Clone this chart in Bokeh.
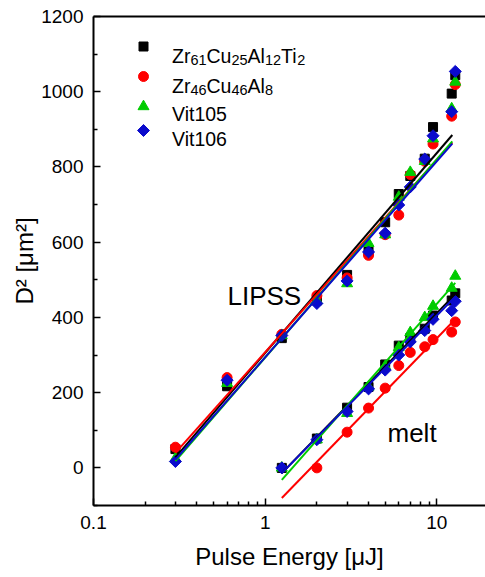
import numpy as np
from bokeh.plotting import figure
from bokeh.models import Range1d, FixedTicker, LogAxis, Label, Title, CustomJSTickFormatter
from bokeh.embed import file_html
from bokeh.resources import INLINE

# ---------------- data ----------------
energy = [0.3, 0.6, 1.25, 2, 3, 4, 5, 6, 7, 8.5, 9.5, 12.2, 12.8]
lipss_zr61 = [50, 217, 345, 445, 513, 575, 653, 728, 776, 822, 906, 995, 1044]
lipss_zr46 = [55, 240, 355, 458, 505, 565, 620, 672, 780, 815, 861, 935, 1019]
lipss_vit105 = [25, 225, 352, 445, 490, 597, 620, 720, 786, 815, 875, 955, 1026]
lipss_vit106 = [17, 233, 352, 437, 497, 574, 624, 699, 747, 821, 883, 947, 1054]

melt_energy = [1.25, 2, 3, 4, 5, 6, 7, 8.5, 9.5, 12.2, 12.8]
melt_zr61 = [0, 78, 160, 215, 275, 325, 345, 370, 405, 445, 464]
melt_vit105 = [0, 75, 145, 215, 270, 320, 360, 400, 430, 478, 510]
melt_vit106 = [0, 75, 150, 210, 260, 300, 335, 365, 395, 418, 443]
melt_energy_zr46 = [2, 3, 4, 5, 6, 7, 8.5, 9.5, 12.2, 12.8]
melt_zr46 = [0, 95, 159, 212, 272, 307, 322, 341, 361, 388]

# fitted lines (end points)
lipss_fit_x = [0.3, 12.3]
lipss_fit_zr61 = [28, 885]
lipss_fit_zr46 = [40, 865]
lipss_fit_vit105 = [18, 868]
lipss_fit_vit106 = [22, 862]
melt_fit_x = [1.25, 12.8]
melt_fit_zr61 = [-14, 462]
melt_fit_zr46 = [-80, 395]
melt_fit_vit105 = [-32, 492]
melt_fit_vit106 = [-14, 455]

x_ticks = [0.1, 1, 10]
x_minor = [0.2, 0.3, 0.4, 0.5, 0.6, 0.7, 0.8, 0.9, 2, 3, 4, 5, 6, 7, 8, 9]
y_ticks = [0, 200, 400, 600, 800, 1000, 1200]
y_minor = [-100, 100, 300, 500, 700, 900, 1100]

legend_labels = [
    [("Zr", 0), ("61", 1), ("Cu", 0), ("25", 1), ("Al", 0), ("12", 1), ("Ti", 0), ("2", 1)],
    [("Zr", 0), ("46", 1), ("Cu", 0), ("46", 1), ("Al", 0), ("8", 1)],
    [("Vit105", 0)],
    [("Vit106", 0)],
]

# ---------------- layout ----------------
W, H = 485, 577
FL, FT, FB = 93, 16, 72
XMIN, XMAX = 0.1, 19.2
YMIN, YMAX = -100, 1200
FW = W - FL
FH = H - FT - FB
FONT = "Liberation Sans"

def px2x(px):
    return XMIN * 10 ** ((px - FL) / FW * np.log10(XMAX / XMIN))

def py2y(py):
    return YMAX - (py - FT) * (YMAX - YMIN) / FH

p = figure(width=W, height=H, x_axis_type="log",
           x_range=Range1d(XMIN, XMAX), y_range=Range1d(YMIN, YMAX),
           output_backend="svg", toolbar_location=None,
           min_border_left=FL, min_border_right=0, min_border_top=FT,
           min_border_bottom=FB)
p.outline_line_color = None
p.xgrid.visible = False
p.ygrid.visible = False
p.background_fill_color = "white"
p.border_fill_color = "white"

for ax in (p.xaxis[0], p.yaxis[0]):
    ax.axis_line_width = 2
    ax.axis_line_color = "black"
    ax.major_tick_in = 7
    ax.major_tick_out = 0
    ax.minor_tick_in = 4
    ax.minor_tick_out = 0
    ax.major_tick_line_width = 1.5
    ax.minor_tick_line_width = 1.5
    ax.major_tick_line_color = "black"
    ax.minor_tick_line_color = "black"
    ax.major_label_text_font = FONT
    ax.major_label_text_font_size = "19px"
    ax.major_label_text_color = "black"
    ax.major_label_standoff = 10

p.xaxis.ticker = FixedTicker(ticks=x_ticks, minor_ticks=x_minor)
p.xaxis.formatter = CustomJSTickFormatter(code="return tick.toString();")
p.yaxis.ticker = FixedTicker(ticks=y_ticks, minor_ticks=y_minor)
p.xaxis.axis_label = "Pulse Energy [μJ]"
p.xaxis.axis_label_text_font = FONT
p.xaxis.axis_label_text_font_size = "24px"
p.xaxis.axis_label_text_font_style = "normal"
p.xaxis.axis_label_text_color = "black"
p.xaxis.axis_label_standoff = 11

top = LogAxis(ticker=FixedTicker(ticks=[]), axis_line_width=2, axis_line_color="black",
              major_tick_in=0, major_tick_out=0, minor_tick_in=0, minor_tick_out=0,
              major_label_text_font_size="0px")
p.add_layout(top, "above")

ytitle = Title(text="D² [μm²]", align="center", offset=29, text_font=FONT,
               text_font_size="24px", text_font_style="normal", text_color="black",
               standoff=2)
p.add_layout(ytitle, "left")

BLACK, RED, GREEN, BLUE = "#000000", "#ff0000", "#00cc00", "#0a0acc"

series = [
    (lipss_zr61, melt_energy, melt_zr61, lipss_fit_zr61, melt_fit_zr61, BLACK, "square", 9, 0.0),
    (lipss_zr46, melt_energy_zr46, melt_zr46, lipss_fit_zr46, melt_fit_zr46, RED, "circle", 10, 0.0),
    (lipss_vit105, melt_energy, melt_vit105, lipss_fit_vit105, melt_fit_vit105, GREEN, "triangle", 11, 0.0),
    (lipss_vit106, melt_energy, melt_vit106, lipss_fit_vit106, melt_fit_vit106, BLUE, "square", 8.5, np.pi / 4),
]

for ly, mx, my, lf, mf, col, mk, sz, ang in series:
    p.scatter(energy, ly, marker=mk, size=sz, angle=ang, fill_color=col, line_color=col)
    p.scatter(mx, my, marker=mk, size=sz, angle=ang, fill_color=col, line_color=col)
for ly, mx, my, lf, mf, col, mk, sz, ang in series:
    p.line(lipss_fit_x, lf, line_color=col, line_width=2)
    p.line(melt_fit_x, mf, line_color=col, line_width=2)

# ---------------- legend (manual, with subscripts) ----------------
AW = {"Z": .611, "r": .333, "C": .722, "u": .556, "A": .667, "l": .222, "T": .611,
      "i": .222, "V": .667, "t": .278}
def twidth(s, fs):
    return sum(AW.get(c, .556) for c in s) * fs

leg_rows_px = [46, 76, 106, 130]
leg_base_px = [55, 85, 113, 138]
for (ly, mx, my, lf, mf, col, mk, sz, ang), ry, rb, parts in zip(series, leg_rows_px, leg_base_px, legend_labels):
    p.scatter([px2x(143)], [py2y(ry)], marker=mk, size=sz, angle=ang, fill_color=col, line_color=col)
    xx = 171.5
    for txt, sub in parts:
        fs = 14.5 if sub else 19.5
        yb = rb + (4 if sub else 0)
        p.add_layout(Label(x=px2x(xx), y=py2y(yb), text=txt, text_font=FONT,
                           text_font_size=f"{fs}px", text_color="black",
                           text_align="left", text_baseline="alphabetic"))
        xx += twidth(txt, fs)

# annotations
p.add_layout(Label(x=px2x(227), y=py2y(295), text="LIPSS", text_font=FONT,
                   text_font_size="26px", text_color="black", text_baseline="alphabetic"))
p.add_layout(Label(x=px2x(387), y=py2y(432), text="melt", text_font=FONT,
                   text_font_size="26px", text_color="black", text_baseline="alphabetic"))

open("out.html", "w").write(file_html(p, INLINE))
